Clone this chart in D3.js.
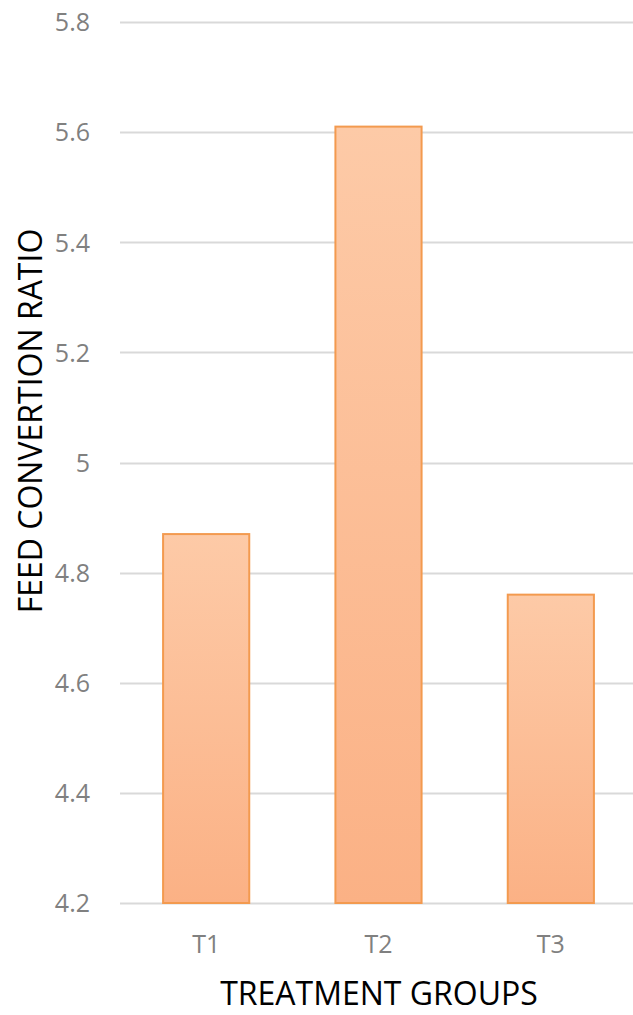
<!DOCTYPE html>
<html>
<head>
<meta charset="utf-8">
<script src="https://cdn.jsdelivr.net/npm/d3@7"></script>
<style>
  html, body { margin: 0; padding: 0; background: #fff; }
  svg { display: block; }
  text { font-family: "Open Sans", "Liberation Sans", sans-serif; }
</style>
</head>
<body>
<svg id="chart" width="633" height="1015"></svg>
<script>
// Feed conversion ratio per treatment group
const groups = ["T1", "T2", "T3"];
const fcr = [4.87, 5.61, 4.76];
const yTicks = [4.2, 4.4, 4.6, 4.8, 5, 5.2, 5.4, 5.6, 5.8];

const svg = d3.select("#chart");
const W = 633, H = 1015;
const plot = { left: 120, right: 637, top: 22, bottom: 903 };

const x = d3.scaleBand()
  .domain(groups)
  .range([plot.left, plot.right])
  .paddingInner(0.5)
  .paddingOuter(0.25);

const y = d3.scaleLinear()
  .domain([4.2, 5.8])
  .range([plot.bottom, plot.top]);

// bar fill gradient, light peach at top to deeper peach at base
const defs = svg.append("defs");
const grad = defs.append("linearGradient")
  .attr("id", "barFill")
  .attr("x1", 0).attr("y1", 0).attr("x2", 0).attr("y2", 1);
grad.append("stop").attr("offset", "0%").attr("stop-color", "#fdcaa7");
grad.append("stop").attr("offset", "100%").attr("stop-color", "#fbb185");

// horizontal gridlines
svg.append("g")
  .selectAll("line")
  .data(yTicks)
  .join("line")
  .attr("x1", plot.left)
  .attr("x2", W)
  .attr("y1", d => Math.round(y(d)) + 0.5)
  .attr("y2", d => Math.round(y(d)) + 0.5)
  .attr("stroke", "#d9d9d9")
  .attr("stroke-width", 2);

// y axis labels
const yAxis = d3.axisLeft(y)
  .tickValues(yTicks)
  .tickFormat(d => d3.format("")(+d.toFixed(1)))
  .tickSize(0)
  .tickPadding(0);
const gy = svg.append("g")
  .attr("transform", `translate(${plot.left - 30},0)`)
  .call(yAxis);
gy.select(".domain").remove();
gy.selectAll("text")
  .attr("fill", "#808080")
  .style("font-size", "25px")
  .attr("dy", "0.35em");

// bars
svg.append("g")
  .selectAll("rect")
  .data(groups)
  .join("rect")
  .attr("x", d => x(d))
  .attr("y", (d, i) => y(fcr[i]))
  .attr("width", x.bandwidth())
  .attr("height", (d, i) => plot.bottom - y(fcr[i]))
  .attr("fill", "url(#barFill)")
  .attr("stroke", "#f39a4f")
  .attr("stroke-width", 2);

// x axis labels
const xAxis = d3.axisBottom(x).tickSize(0).tickPadding(0);
const gx = svg.append("g")
  .attr("transform", `translate(0,${plot.bottom + 41})`)
  .call(xAxis);
gx.select(".domain").remove();
gx.selectAll("text")
  .attr("fill", "#808080")
  .style("font-size", "25px")
  .attr("dy", "0.35em");

// axis titles
svg.append("text")
  .attr("x", 379)
  .attr("y", 1005)
  .attr("text-anchor", "middle")
  .attr("fill", "#000")
  .style("font-size", "32px")
  .text("TREATMENT GROUPS");

svg.append("text")
  .attr("transform", "translate(42,421) rotate(-90)")
  .attr("text-anchor", "middle")
  .attr("fill", "#000")
  .style("font-size", "32px")
  .text("FEED CONVERTION RATIO");
</script>
</body>
</html>
